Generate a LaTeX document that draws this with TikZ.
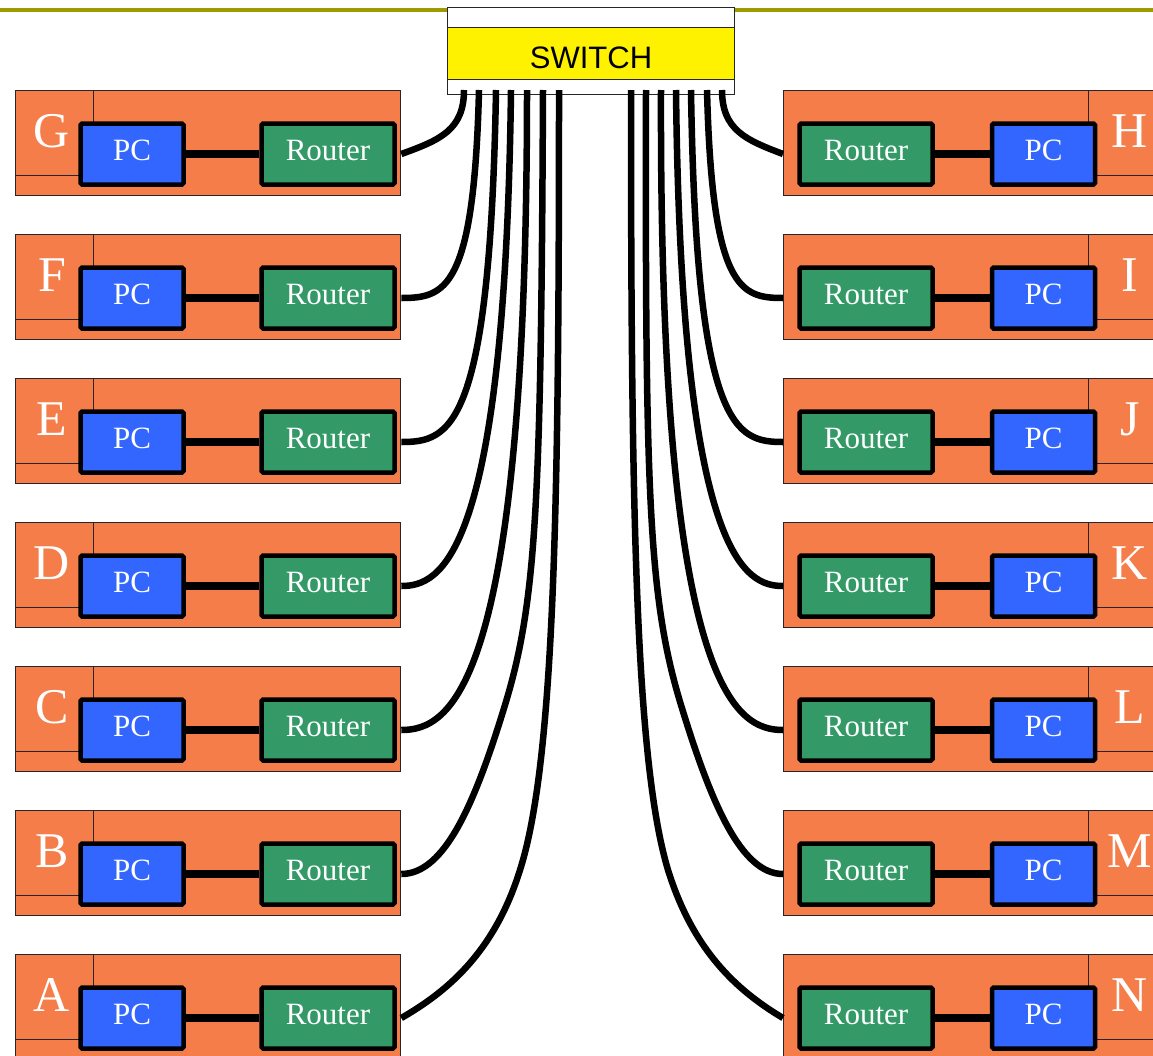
\documentclass[tikz,border=0pt]{standalone}
\usepackage{fontspec}
\setmainfont{Liberation Serif}
\newfontfamily\switchfont{Liberation Sans}
\usetikzlibrary{calc}
\definecolor{siteorange}{HTML}{F47D4A}
\definecolor{pcblue}{HTML}{3366FF}
\definecolor{routergreen}{HTML}{339966}
\definecolor{ruleolive}{HTML}{9C9C00}
\tikzset{
  sitebox/.style={draw=black!85,line width=1.3,fill=siteorange,minimum width=385,minimum height=105,inner sep=0,anchor=north west},
  tab/.style={draw=black!85,line width=1.3,fill=siteorange,minimum width=78,minimum height=85,inner sep=0,anchor=north west},
  letter/.style={text=white,inner sep=0,font=\fontsize{50}{50}\selectfont},
  dev/.style={draw=black,line width=4.5,rounded corners=1.5,text=white,minimum height=61,inner sep=0,text depth=8,font=\fontsize{31}{31}\selectfont},
  pc/.style={dev,fill=pcblue,minimum width=103},
  router/.style={dev,fill=routergreen,minimum width=133},
  link/.style={line width=8},
  cable/.style={line width=6.5}
}
\begin{document}
\begin{tikzpicture}[x=1pt,y=-1pt]
  \useasboundingbox (0,0) rectangle (1153,1055);
  \clip (0,0) rectangle (1153,1055);

  % RULE
  \draw[ruleolive,line width=3.5] (0,10) -- (1153,10);

  % SITES
  \foreach \l/\r [count=\i from 0] in {G/H,F/I,E/J,D/K,C/L,B/M,A/N}{
    \pgfmathsetmacro\y{90+144*\i}
    % left
    \node[sitebox] (box\l) at (15,\y) {};
    \node[tab] (tab\l) at (15,\y) {};
    \node[letter] (lab\l) at (52,\y+41) {\l};
    \node[pc] (pc\l) at (132,\y+64) {PC};
    \node[router] (rt\l) at (328,\y+64) {Router};
    \draw[link] (pc\l) -- (rt\l);
    % right
    \node[sitebox] (box\r) at (783,\y) {};
    \node[tab] (tab\r) at (1088,\y) {};
    \node[letter] (lab\r) at (1130,\y+41) {\r};
    \node[router] (rt\r) at (866,\y+64) {Router};
    \node[pc] (pc\r) at (1043.5,\y+64) {PC};
    \draw[link] (rt\r) -- (pc\r);
  }

  % SWITCH
  \node[draw=black!85,line width=1.3,fill=white,minimum width=287,minimum height=87,inner sep=0] (sw) at (591,51) {};
  \node[draw=black!85,line width=1.3,fill=yellow,minimum width=287,minimum height=52,inner sep=0,text height=30,text depth=0,font=\switchfont\fontsize{31}{31}\selectfont] (swband) at (591,53.5) {SWITCH};

  % PORTS
  \foreach \n/\x in {G/464,F/479,E/496,D/511,C/527,B/543,A/559,H/722,I/707,J/691,K/676,L/661,M/646,N/631}
    \coordinate (p\n) at (\x,90);

  % CABLES (left)
  \draw[cable] (pG) .. controls (464,130) and (440,140) .. (rtG -| boxG.east);
  \draw[cable] (pF) .. controls (474,290) and (445,298) .. (rtF -| boxF.east);
  \draw[cable] (pE) .. controls (490,430) and (450,442) .. (rtE -| boxE.east);
  \draw[cable] (pD) .. controls (505,560) and (440,586) .. (rtD -| boxD.east);
  \draw[cable] (pC) .. controls (527,690) and (450,730) .. (rtC -| boxC.east);
  \draw[cable] (pB) .. controls (541,500) and (537,600) .. (505,705)
    .. controls (475,803) and (445,874) .. (rtB -| boxB.east);
  \draw[cable] (pA) .. controls (559,500) and (555,760) .. (520,870)
    .. controls (495,950) and (450,990) .. (rtA -| boxA.east);

  % CABLES (right)
  \draw[cable] (pH) .. controls (722,130) and (746,140) .. (rtH -| boxH.west);
  \draw[cable] (pI) .. controls (712,290) and (741,298) .. (rtI -| boxI.west);
  \draw[cable] (pJ) .. controls (696,430) and (736,442) .. (rtJ -| boxJ.west);
  \draw[cable] (pK) .. controls (681,560) and (746,586) .. (rtK -| boxK.west);
  \draw[cable] (pL) .. controls (659,690) and (736,730) .. (rtL -| boxL.west);
  \draw[cable] (pM) .. controls (645,500) and (649,600) .. (681,705)
    .. controls (711,803) and (741,874) .. (rtM -| boxM.west);
  \draw[cable] (pN) .. controls (631,500) and (635,760) .. (668,870)
    .. controls (693,950) and (736,990) .. (rtN -| boxN.west);
\end{tikzpicture}
\end{document}
